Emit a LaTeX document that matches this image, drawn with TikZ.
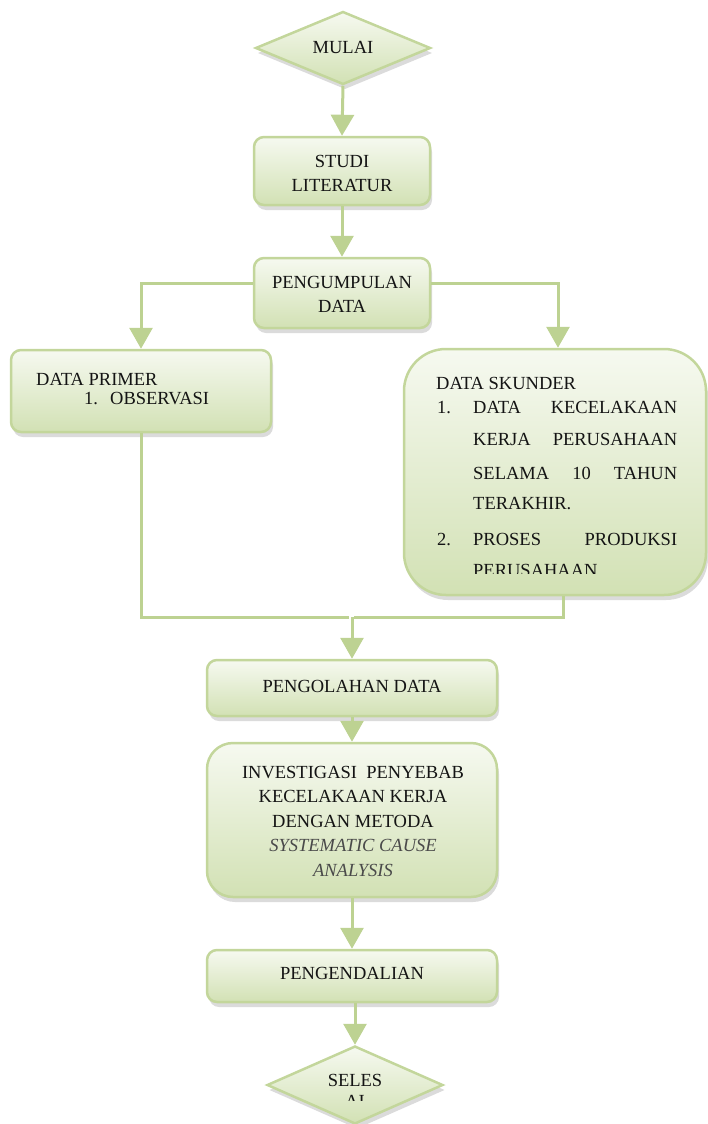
\documentclass[tikz,border=0pt]{standalone}
\usepackage{fontspec}
\setmainfont{Liberation Serif}
\usetikzlibrary{shapes.geometric,arrows.meta,shadows}
\definecolor{gborder}{HTML}{C3D69B}
\definecolor{gline}{HTML}{BDD292}
\definecolor{gtop}{HTML}{F6F9F0}
\definecolor{gbot}{HTML}{D2E1B4}
\definecolor{itgray}{HTML}{4A4A4A}
\newcommand{\fsz}{\fontsize{18.5}{22}\selectfont}
\tikzset{
  shade/.style={drop shadow={shadow xshift=2pt,shadow yshift=-5pt,fill=black,opacity=0.14}},
  box/.style={draw=gborder, line width=2.5pt, top color=gtop, bottom color=gbot,
    rounded corners=10pt, inner sep=0pt, font=\fsz, align=center, shade},
  dia/.style={diamond, draw=gborder, line width=2.5pt, top color=gtop, bottom color=gbot,
    inner sep=0pt, font=\fsz, shade},
  conn/.style={draw=gline, line width=3pt},
  arr/.style={conn, -{Triangle[width=23pt,length=21pt]}},
  txt/.style={font=\fsz, inner sep=0pt, text=black!92},
}
\begin{document}
\begin{tikzpicture}[x=1pt,y=-1pt]
\useasboundingbox (0,0) rectangle (707,1124);

% nodes
\node[dia, minimum width=175pt, minimum height=73pt] (mulai) at (343,48) {};
\node[txt] (mulaitxt) at (343,47) {MULAI};

\node[box, minimum width=176pt, minimum height=68pt] (studi) at (342,171) {};
\node[txt, align=center] (studitxt) at (342,173) {STUDI\\[2pt]LITERATUR};

\node[box, minimum width=176pt, minimum height=70pt] (kumpul) at (342,293) {};
\node[txt, align=center] (kumpultxt) at (342,294) {PENGUMPULAN\\[2pt]DATA};

\node[box, minimum width=260pt, minimum height=82pt] (primer) at (141,391) {};
\node[txt, anchor=base west] (primer1) at (36,385) {DATA PRIMER};
\node[txt, anchor=base west] (primer2) at (84,404) {1.};
\node[txt, anchor=base west] (primer3) at (110,404) {OBSERVASI};

\node[box, rounded corners=42pt, minimum width=302pt, minimum height=246pt] (skunder) at (555,472) {};
\begin{scope}
  \clip (400,340) rectangle (707,573);
  \node[txt, anchor=base west] (sk0) at (436,389) {DATA SKUNDER};
  \node[txt, anchor=base west] (sk1n) at (437,413) {1.};
  \node[txt, anchor=base west] (sk1) at (473,413) {\hbox to 204pt{DATA\hfill KECELAKAAN}};
  \node[txt, anchor=base west] (sk2) at (473,445) {\hbox to 204pt{KERJA\hfill PERUSAHAAN}};
  \node[txt, anchor=base west] (sk3) at (473,479) {\hbox to 204pt{SELAMA\hfill 10\hfill TAHUN}};
  \node[txt, anchor=base west] (sk4) at (473,509) {TERAKHIR.};
  \node[txt, anchor=base west] (sk5n) at (437,545) {2.};
  \node[txt, anchor=base west] (sk5) at (473,545) {\hbox to 204pt{PROSES\hfill PRODUKSI}};
  \node[txt, anchor=base west] (sk6) at (473,576) {PERUSAHAAN};
\end{scope}

\node[box, minimum width=290pt, minimum height=56pt] (olah) at (352,688) {};
\node[txt] (olahtxt) at (352,686) {PENGOLAHAN DATA};

\node[box, rounded corners=26pt, minimum width=290pt, minimum height=154pt] (invest) at (352,820) {};
\node[txt, anchor=base] (inv1) at (353,778) {INVESTIGASI\ \ PENYEBAB};
\node[txt, anchor=base] (inv2) at (353,802) {KECELAKAAN KERJA};
\node[txt, anchor=base] (inv3) at (353,827) {DENGAN METODA};
\node[txt, anchor=base, text=itgray, font=\fsz\itshape] (inv4) at (353,851) {SYSTEMATIC CAUSE};
\node[txt, anchor=base, text=itgray, font=\fsz\itshape] (inv5) at (353,876) {ANALYSIS};

\node[box, minimum width=290pt, minimum height=52pt] (kendali) at (352,976) {};
\node[txt] (kendalitxt) at (352,973) {PENGENDALIAN};

\node[dia, minimum width=176pt, minimum height=78pt] (selesai) at (355,1085) {};
\node[txt] (seltxt) at (355,1080) {SELES};
\begin{scope}
  \clip (300,1090) rectangle (410,1100);
  \node[txt] (seltxt2) at (355,1101) {AI};
\end{scope}

% connectors
\coordinate (join) at (352,617);
\draw[arr] (mulai.south) -- (studi.north);
\draw[arr] (studi.south) -- (kumpul.north);
\draw[arr] ([yshift=10pt]kumpul.west) -| (primer.north);
\draw[arr] ([yshift=10pt]kumpul.east) -| ([xshift=3pt]skunder.north);
\draw[conn] (primer.south) |- ([xshift=-3pt]join);
\draw[conn] ([xshift=8pt]skunder.south) |- ([xshift=2pt]join);
\draw[arr] (join) -- (olah.north);
\draw[arr] (olah.south) -- (invest.north);
\draw[arr] (invest.south) -- (kendali.north);
\draw[arr] ([xshift=3pt]kendali.south) -- (selesai.north);
\end{tikzpicture}
\end{document}
